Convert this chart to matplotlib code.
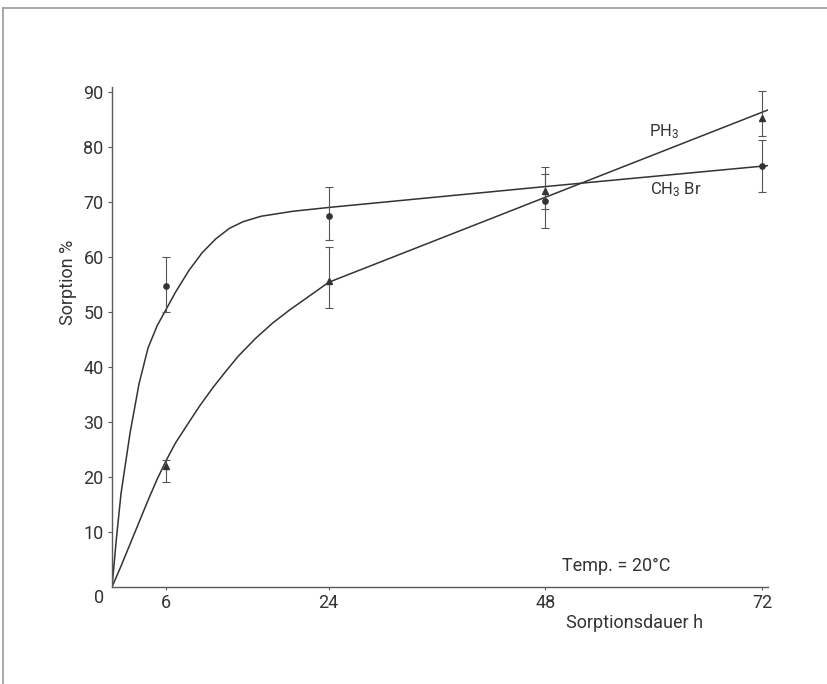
import matplotlib
matplotlib.use("Agg")
import matplotlib.pyplot as plt
from matplotlib.lines import Line2D

plt.rcParams['font.family'] = ['Roboto', 'DejaVu Sans']
plt.rcParams['mathtext.fontset'] = 'custom'
plt.rcParams['mathtext.rm'] = 'Roboto'
plt.rcParams['mathtext.default'] = 'rm'

INK = '#333333'
AX = '#5a5a5a'

# measured points (hours, sorption %)
hours = [6, 24, 48, 72]
ch3br_mean = [54.8, 67.4, 70.2, 76.6]
ch3br_low = [50.0, 63.0, 65.2, 71.8]
ch3br_high = [60.0, 72.7, 75.0, 81.2]
ph3_mean = [22.0, 55.6, 72.0, 85.2]
ph3_low = [19.0, 50.7, 68.8, 82.0]
ph3_high = [23.0, 61.8, 76.4, 90.2]

# hand-drawn fitted curves
ch3br_curve_x = [0, 0.5, 1.0, 2.0, 3.0, 4.0, 5.0, 6.0, 7.0, 8.5, 10.0, 11.5,
                 13.0, 14.5, 16.5, 20.0, 24.0, 48.0, 72.6]
ch3br_curve_y = [0, 9.0, 17.0, 28.0, 37.0, 43.5, 47.5, 50.5, 53.5, 57.5, 60.8, 63.3,
                 65.2, 66.4, 67.4, 68.3, 69.0, 72.8, 76.6]
ph3_curve_x = [0, 1.0, 2.0, 3.0, 4.0, 5.0, 6.0, 7.0, 8.3, 9.7, 11.2, 12.6, 14.0,
               15.9, 17.8, 19.7, 21.6, 24.0, 72.6]
ph3_curve_y = [0, 3.8, 7.8, 11.8, 15.8, 19.6, 23.0, 26.1, 29.4, 32.9, 36.3, 39.2, 42.0,
               45.2, 48.0, 50.4, 52.6, 55.4, 86.7]

x_ticks = [6, 24, 48, 72]
y_ticks = [10, 20, 30, 40, 50, 60, 70, 80, 90]

fig = plt.figure(figsize=(8.28, 6.84), dpi=100)
ax = fig.add_axes([112/828, 1-587/684, 656/828, 500/684])

ax.plot(ch3br_curve_x, ch3br_curve_y, color=INK, lw=1.1, solid_joinstyle='round')
ax.plot(ph3_curve_x, ph3_curve_y, color=INK, lw=1.1, solid_joinstyle='round')

def ebars(x, m, lo, hi, marker, ms):
    yerr = [[mm - l for mm, l in zip(m, lo)], [h - mm for mm, h in zip(m, hi)]]
    ax.errorbar(x, m, yerr=yerr, fmt=marker, color=INK, ms=ms,
                ecolor='#555555', elinewidth=0.8, capsize=3, capthick=0.8)

ebars(hours, ch3br_mean, ch3br_low, ch3br_high, 'o', 3.8)
ebars(hours, ph3_mean, ph3_low, ph3_high, '^', 4.5)

ax.set_xlim(0, 72.65)
ax.set_ylim(0, 90.9)
ax.set_xticks(x_ticks)
ax.set_yticks(y_ticks)
for s in ['top', 'right']:
    ax.spines[s].set_visible(False)
for s in ['left', 'bottom']:
    ax.spines[s].set_color(AX)
    ax.spines[s].set_linewidth(1.0)
ax.tick_params(axis='both', colors=AX, labelcolor=INK, labelsize=13, width=0.8)
ax.tick_params(axis='y', length=3, pad=3)
ax.tick_params(axis='x', length=2.5, pad=2.5)

ax.annotate('0', xy=(0, 0), xycoords='data', xytext=(-12.7, -11),
            textcoords='offset pixels', ha='center', va='center',
            fontsize=13, color=INK)

ax.text(0.797, -0.054, 'Sorptionsdauer h', transform=ax.transAxes,
        ha='center', va='top', fontsize=13, color=INK)
ax.text(-0.067, 0.61, 'Sorption %', transform=ax.transAxes, rotation=90,
        ha='center', va='center', fontsize=13, color=INK)
ax.text(55.8, 3.8, 'Temp. = 20°C', ha='center', va='center', fontsize=13, color=INK)
ax.text(59.5, 82.8, r'PH$_3$', ha='left', va='center', fontsize=12, color=INK)
ax.text(59.6, 72.2, r'CH$_3$ Br', ha='left', va='center', fontsize=12, color=INK)

# page frame
fig.add_artist(Line2D([3/828, 1.0], [1-8/684, 1-8/684], transform=fig.transFigure,
                      color='#9a9a9a', lw=1.2))
fig.add_artist(Line2D([3/828, 3/828], [0, 1-8/684], transform=fig.transFigure,
                      color='#9a9a9a', lw=1.2))

fig.savefig('out.png', dpi=100)
